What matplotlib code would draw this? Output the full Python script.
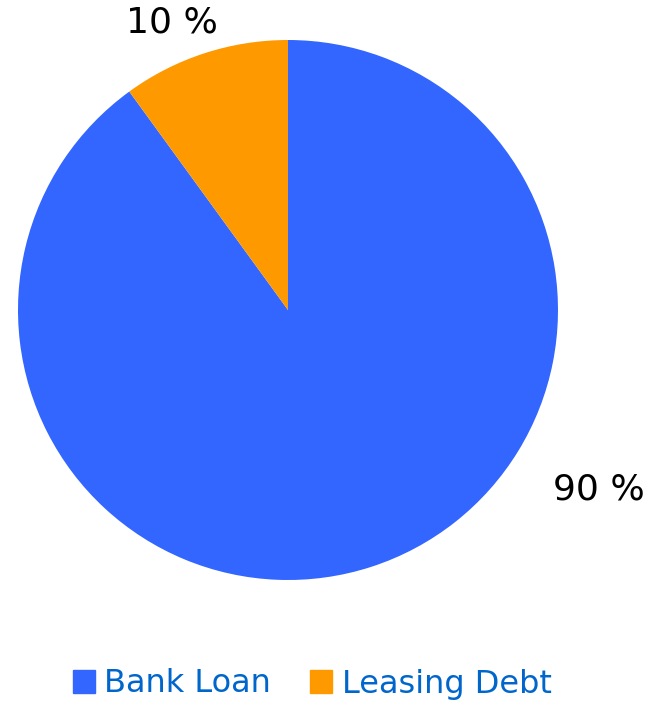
import numpy as np
import matplotlib
matplotlib.use('Agg')
import matplotlib.pyplot as plt
from matplotlib.patches import Patch

labels = ['Bank Loan', 'Leasing Debt']
values = [90, 10]
colors = ['#3366ff', '#ff9900']
pct_text = ['90 %', '10 %']

fig = plt.figure(figsize=(6.54, 7.04), dpi=100)
ax = fig.add_axes([18/654, 124/704, 540/654, 540/704])

wedges, _ = ax.pie(values, colors=colors, startangle=90, counterclock=False,
                   radius=1.0, wedgeprops=dict(linewidth=0))
ax.set_xlim(-1, 1)
ax.set_ylim(-1, 1)
ax.set_aspect('equal')
ax.axis('off')

# label spots (angle in degrees, distance from centre)
label_pos = [(-30, 1.33), (112, 1.15)]
for txt, (ang, r) in zip(pct_text, label_pos):
    a = np.deg2rad(ang)
    ax.text(r*np.cos(a), r*np.sin(a), txt, ha='center', va='center',
            fontsize=26, color='black', clip_on=False)

handles = [Patch(facecolor=c, edgecolor=c) for c in colors]
leg = fig.legend(handles, labels, loc='center', bbox_to_anchor=(312/654, 1 - 684/704),
                 ncol=2, frameon=False, fontsize=23, handlelength=0.7, handleheight=0.7,
                 handletextpad=0.3, columnspacing=1.2)
for t in leg.get_texts():
    t.set_color('#0066cc')

fig.savefig('out.png', dpi=100)
